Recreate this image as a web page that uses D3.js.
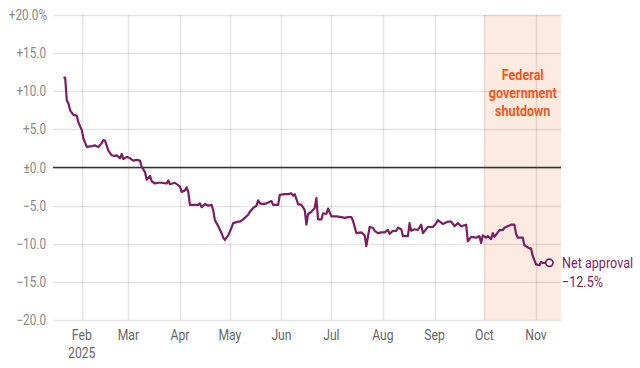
<!DOCTYPE html>
<html>
<head>
<meta charset="utf-8">
<script src="https://cdn.jsdelivr.net/npm/d3@7"></script>
<style>
  body { margin: 0; background: #fff; }
  svg text { font-family: "Roboto", "Liberation Sans", sans-serif; }
</style>
</head>
<body>
<div id="chart"></div>
<script>
//net approval readings
var dates = [
  "2025-01-21","2025-01-22","2025-01-23","2025-01-24","2025-01-25","2025-01-27","2025-01-29","2025-01-30",
  "2025-02-01","2025-02-02","2025-02-04","2025-02-07","2025-02-09","2025-02-11","2025-02-13","2025-02-14",
  "2025-02-15","2025-02-17","2025-02-19","2025-02-21","2025-02-22","2025-02-24","2025-02-25","2025-02-26",
  "2025-02-28","2025-03-02","2025-03-04","2025-03-06","2025-03-08","2025-03-09","2025-03-11","2025-03-12",
  "2025-03-14","2025-03-15","2025-03-17","2025-03-19","2025-03-21","2025-03-24","2025-03-25","2025-03-26",
  "2025-03-29","2025-04-01","2025-04-02","2025-04-04","2025-04-05","2025-04-06","2025-04-07","2025-04-09",
  "2025-04-12","2025-04-13","2025-04-14","2025-04-16","2025-04-18","2025-04-20","2025-04-21","2025-04-22",
  "2025-04-24","2025-04-26","2025-04-27","2025-04-28","2025-04-30","2025-05-02","2025-05-03","2025-05-06",
  "2025-05-07","2025-05-09","2025-05-12","2025-05-13","2025-05-15","2025-05-17","2025-05-18","2025-05-19",
  "2025-05-21","2025-05-23","2025-05-25","2025-05-26","2025-05-27","2025-05-30","2025-05-31","2025-06-03",
  "2025-06-05","2025-06-07","2025-06-08","2025-06-09","2025-06-11","2025-06-13","2025-06-15","2025-06-16",
  "2025-06-17","2025-06-19","2025-06-21","2025-06-22","2025-06-23","2025-06-25","2025-06-26","2025-06-28",
  "2025-06-29","2025-07-01","2025-07-04","2025-07-07","2025-07-09","2025-07-11","2025-07-13","2025-07-14",
  "2025-07-16","2025-07-19","2025-07-21","2025-07-22","2025-07-24","2025-07-26","2025-07-27","2025-07-29",
  "2025-07-31","2025-08-02","2025-08-04","2025-08-05","2025-08-07","2025-08-09","2025-08-10","2025-08-12",
  "2025-08-13","2025-08-16","2025-08-17","2025-08-18","2025-08-20","2025-08-22","2025-08-24","2025-08-25",
  "2025-08-28","2025-08-31","2025-09-02","2025-09-03","2025-09-06","2025-09-09","2025-09-11","2025-09-13",
  "2025-09-15","2025-09-17","2025-09-20","2025-09-21","2025-09-23","2025-09-26","2025-09-28","2025-09-29",
  "2025-09-30","2025-10-02","2025-10-03","2025-10-05","2025-10-06","2025-10-07","2025-10-10","2025-10-12",
  "2025-10-13","2025-10-15","2025-10-17","2025-10-19","2025-10-20","2025-10-21","2025-10-24","2025-10-25",
  "2025-10-28","2025-10-29","2025-10-30","2025-11-01","2025-11-03","2025-11-04","2025-11-05","2025-11-09"
];
var approval = [
  11.8, 11.8, 8.8, 8.4, 7.5, 6.9, 6.8, 5.9,
  4.9, 3.8, 2.7, 2.8, 2.9, 2.7, 3.2, 3.6,
  3.5, 2.2, 1.6, 1.5, 1.6, 1.2, 1.8, 1.1,
  1.4, 1.2, 0.9, 1.0, 0.9, 0.1, -0.6, -1.6,
  -1.1, -1.8, -2.1, -2.0, -2.0, -2.1, -1.7, -2.2,
  -2.0, -2.5, -3.2, -3.0, -2.6, -3.2, -4.9, -4.9,
  -4.9, -4.7, -5.2, -4.8, -5.0, -4.9, -5.6, -6.9,
  -7.7, -8.6, -9.2, -9.5, -8.9, -7.9, -7.3, -7.1,
  -7.1, -6.8, -6.2, -5.8, -5.3, -5.0, -4.3, -4.7,
  -4.8, -4.7, -4.5, -4.4, -4.9, -4.9, -3.6, -3.5,
  -3.5, -3.4, -3.7, -3.5, -4.8, -4.9, -5.6, -7.5,
  -6.1, -5.8, -5.3, -4.0, -6.8, -6.8, -6.0, -6.1,
  -5.4, -6.4, -6.4, -6.5, -6.6, -6.5, -6.5, -7.0,
  -8.6, -8.5, -8.9, -10.3, -7.8, -7.9, -8.3, -8.6,
  -8.5, -8.5, -8.2, -8.7, -8.3, -8.3, -7.9, -8.1,
  -9.0, -9.0, -7.3, -8.3, -8.1, -8.2, -7.5, -8.6,
  -7.8, -7.8, -7.3, -6.9, -7.4, -7.1, -7.1, -7.7,
  -7.3, -7.7, -7.5, -9.7, -9.1, -9.2, -9.0, -9.9,
  -8.9, -9.2, -9.0, -9.4, -8.6, -9.1, -8.2, -8.2,
  -7.9, -7.7, -7.5, -7.5, -8.7, -9.2, -9.2, -10.2,
  -10.6, -10.6, -11.6, -12.7, -12.8, -12.4, -12.5, -12.5
];

var yTicks = [20, 15, 10, 5, 0, -5, -10, -15, -20];
var monthTicks = ["2025-02-01","2025-03-01","2025-04-01","2025-05-01","2025-06-01",
                  "2025-07-01","2025-08-01","2025-09-01","2025-10-01","2025-11-01"];
var shutdownStart = "2025-10-01";
var shutdownLabel = ["Federal", "government", "shutdown"];

var width = 640, height = 368;
var margin = {top: 15, right: 79, bottom: 48, left: 53};
//no condensed face is installed, so text gets squeezed sideways
var squeeze = 0.84;

var parseDay = d3.timeParse("%Y-%m-%d");
var data = dates.map(function(d, i) { return {date: parseDay(d), value: approval[i]}; });

var x = d3.scaleTime()
    .domain([new Date(2025, 0, 14, 17), new Date(2025, 10, 16, 0)])
    .range([margin.left, width - margin.right]);

var y = d3.scaleLinear()
    .domain([-20, 20])
    .range([height - margin.bottom, margin.top]);

var purple = "#7b1f5f";
var orange = "#f2561d";

var svg = d3.select("#chart").append("svg")
    .attr("width", width)
    .attr("height", height);

//puts a squeezed text at (tx, ty)
function label(parent, tx, ty, str) {
  return parent.append("g")
      .attr("transform", "translate(" + tx + "," + ty + ") scale(" + squeeze + ",1)")
    .append("text")
      .text(str);
}

//shutdown band
svg.append("rect")
    .attr("x", x(parseDay(shutdownStart)))
    .attr("y", margin.top)
    .attr("width", x.range()[1] - x(parseDay(shutdownStart)))
    .attr("height", y(-20) - y(20))
    .attr("fill", "#fdebe1");

//horizontal gridlines
svg.append("g")
    .selectAll("line")
    .data(yTicks)
    .enter().append("line")
    .attr("x1", x.range()[0])
    .attr("x2", x.range()[1])
    .attr("y1", function(d) { return Math.round(y(d)) + 0.5; })
    .attr("y2", function(d) { return Math.round(y(d)) + 0.5; })
    .attr("stroke", "#000")
    .attr("stroke-opacity", 0.1)
    .attr("stroke-width", 1.5);

//vertical gridlines, one per month
svg.append("g")
    .selectAll("line")
    .data(monthTicks)
    .enter().append("line")
    .attr("x1", function(d) { return Math.round(x(parseDay(d))) + 0.5; })
    .attr("x2", function(d) { return Math.round(x(parseDay(d))) + 0.5; })
    .attr("y1", y(20))
    .attr("y2", y(-20))
    .attr("stroke", "#000")
    .attr("stroke-opacity", 0.1)
    .attr("stroke-width", 1.5);

//zero line
svg.append("line")
    .attr("x1", x.range()[0])
    .attr("x2", x.range()[1])
    .attr("y1", y(0))
    .attr("y2", y(0))
    .attr("stroke", "#333")
    .attr("stroke-width", 1.5);

//y tick labels
function fmtY(d) {
  var s = Math.abs(d).toFixed(1);
  if (d > 0) s = "+" + s;
  else if (d < 0) s = "\u2212" + s;
  else s = "\u00b1" + s;
  if (d === 20) s += "%";
  return s;
}
var yLabels = svg.append("g");
yTicks.forEach(function(d) {
  label(yLabels, d === 20 ? 47 : 46, y(d) + 5, fmtY(d))
      .attr("text-anchor", "end")
      .attr("font-size", 14)
      .attr("fill", "#888");
});

//x tick labels
var fmtMonth = d3.timeFormat("%b");
var xLabels = svg.append("g");
monthTicks.forEach(function(d) {
  label(xLabels, x(parseDay(d)), 340, fmtMonth(parseDay(d)))
      .attr("text-anchor", "middle")
      .attr("font-size", 14.5)
      .attr("fill", "#666");
});
label(xLabels, x(parseDay(monthTicks[0])), 358, "2025")
    .attr("text-anchor", "middle")
    .attr("font-size", 14.5)
    .attr("fill", "#666");

//shutdown label
var bandMid = (x(parseDay(shutdownStart)) + x.range()[1]) / 2;
var shutG = svg.append("g");
shutdownLabel.forEach(function(d, i) {
  label(shutG, bandMid, 80 + i * 18, d)
      .attr("text-anchor", "middle")
      .attr("font-size", 15)
      .attr("font-weight", "bold")
      .attr("fill", orange);
});

//approval line
svg.append("path")
    .datum(data)
    .attr("d", d3.line()
        .x(function(d) { return x(d.date); })
        .y(function(d) { return y(d.value); }))
    .attr("fill", "none")
    .attr("stroke", purple)
    .attr("stroke-width", 2.2)
    .attr("stroke-linejoin", "round");

//end marker
var last = data[data.length - 1];
svg.append("circle")
    .attr("cx", x(last.date))
    .attr("cy", y(last.value))
    .attr("r", 3.6)
    .attr("fill", "#fff")
    .attr("stroke", purple)
    .attr("stroke-width", 1.8);

var endG = svg.append("g");
label(endG, 562, y(last.value) + 5, "Net approval")
    .attr("font-size", 15)
    .attr("fill", purple);
label(endG, 562, y(last.value) + 24, "\u2212" + Math.abs(last.value).toFixed(1) + "%")
    .attr("font-size", 15)
    .attr("fill", purple);
</script>
</body>
</html>
